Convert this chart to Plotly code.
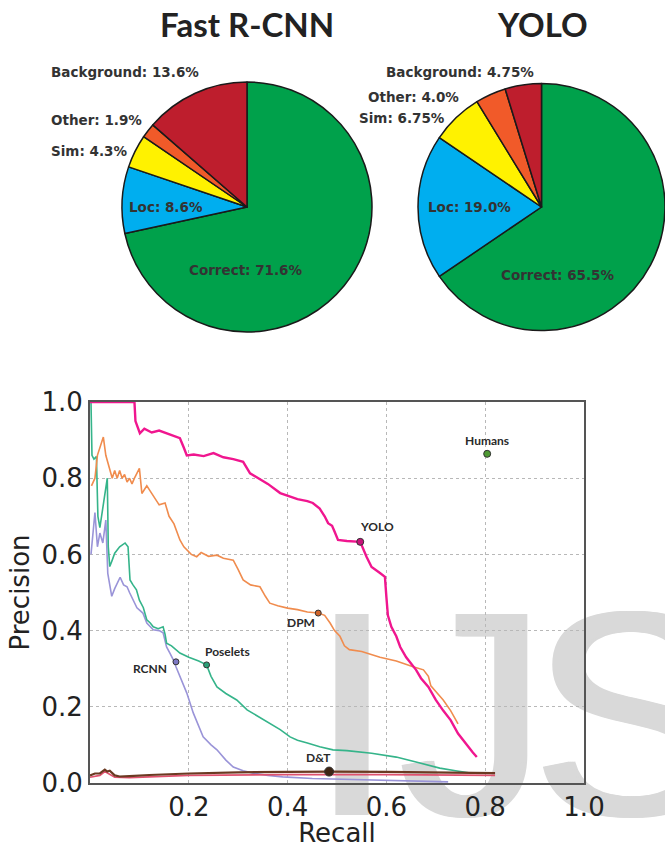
import plotly.graph_objects as go

# ---------------- data ----------------
pie_titles = ["Fast R-CNN", "YOLO"]
pie_categories = ["Correct", "Loc", "Sim", "Other", "Background"]
pie_colors = ["#00a14b", "#00aeef", "#fff200", "#f15a29", "#be1e2d"]
frcnn_values = [71.6, 8.6, 4.3, 1.9, 13.6]
yolo_values = [65.5, 19.0, 6.75, 4.0, 4.75]

yolo_recall = [0.0, 0.09, 0.092, 0.101, 0.11, 0.125, 0.14, 0.155, 0.165, 0.182, 0.19, 0.196, 0.21, 0.23,
               0.25, 0.27, 0.29, 0.31, 0.324, 0.34, 0.36, 0.385, 0.40, 0.42, 0.44, 0.451, 0.465, 0.475,
               0.482, 0.49, 0.495, 0.502, 0.52, 0.547, 0.56, 0.57, 0.587, 0.597, 0.60, 0.603, 0.61, 0.62,
               0.628, 0.64, 0.66, 0.67, 0.685, 0.70, 0.715, 0.73, 0.745, 0.755, 0.765, 0.775, 0.783]
yolo_precision = [1.0, 1.0, 0.95, 0.918, 0.93, 0.92, 0.925, 0.918, 0.915, 0.905, 0.88, 0.86, 0.862, 0.858,
                  0.866, 0.855, 0.85, 0.843, 0.813, 0.80, 0.785, 0.761, 0.755, 0.745, 0.74, 0.735, 0.72, 0.70,
                  0.682, 0.675, 0.66, 0.638, 0.635, 0.633, 0.593, 0.567, 0.551, 0.541, 0.488, 0.44, 0.41, 0.385,
                  0.357, 0.33, 0.297, 0.275, 0.252, 0.218, 0.19, 0.165, 0.13, 0.113, 0.095, 0.08, 0.068]

dpm_recall = [0.003, 0.01, 0.015, 0.02, 0.027, 0.032, 0.038, 0.045, 0.05, 0.055, 0.06, 0.065, 0.07, 0.075,
              0.08, 0.085, 0.09, 0.1, 0.105, 0.115, 0.12, 0.13, 0.14, 0.152, 0.16, 0.17, 0.182, 0.19, 0.196,
              0.205, 0.216, 0.225, 0.24, 0.257, 0.27, 0.29, 0.30, 0.31, 0.325, 0.344, 0.355, 0.364, 0.38,
              0.40, 0.42, 0.44, 0.462, 0.475, 0.486, 0.495, 0.506, 0.515, 0.525, 0.55, 0.587, 0.62, 0.654,
              0.675, 0.685, 0.69, 0.70, 0.715, 0.73, 0.745]
dpm_precision = [0.78, 0.80, 0.86, 0.88, 0.908, 0.86, 0.83, 0.80, 0.82, 0.80, 0.82, 0.80, 0.81, 0.79,
                 0.80, 0.785, 0.80, 0.826, 0.76, 0.78, 0.77, 0.75, 0.73, 0.735, 0.70, 0.68, 0.638, 0.62, 0.611,
                 0.60, 0.594, 0.605, 0.595, 0.598, 0.59, 0.585, 0.56, 0.533, 0.52, 0.515, 0.49, 0.472, 0.465,
                 0.459, 0.455, 0.449, 0.446, 0.44, 0.42, 0.40, 0.385, 0.36, 0.35, 0.345, 0.33, 0.32, 0.305,
                 0.297, 0.28, 0.255, 0.24, 0.218, 0.19, 0.155]

poselets_recall = [0.002, 0.004, 0.008, 0.013, 0.016, 0.02, 0.028, 0.035, 0.037, 0.04, 0.045, 0.05, 0.06,
                   0.071, 0.077, 0.08, 0.081, 0.087, 0.094, 0.1, 0.108, 0.115, 0.122, 0.128, 0.138, 0.148,
                   0.152, 0.155, 0.165, 0.182, 0.2, 0.22, 0.236, 0.245, 0.257, 0.275, 0.297, 0.318, 0.34,
                   0.364, 0.385, 0.405, 0.42, 0.44, 0.465, 0.492, 0.52, 0.57, 0.62, 0.66, 0.708, 0.74, 0.77]
poselets_precision = [1.0, 0.86, 0.85, 0.857, 0.70, 0.67, 0.74, 0.80, 0.62, 0.568, 0.585, 0.603, 0.62,
                      0.63, 0.62, 0.56, 0.533, 0.52, 0.507, 0.48, 0.46, 0.428, 0.42, 0.41, 0.405, 0.41,
                      0.39, 0.367, 0.36, 0.341, 0.33, 0.32, 0.31, 0.28, 0.252, 0.235, 0.218, 0.192, 0.175,
                      0.157, 0.14, 0.121, 0.112, 0.105, 0.095, 0.087, 0.085, 0.078, 0.068, 0.055, 0.039,
                      0.032, 0.026]

rcnn_recall = [0.002, 0.006, 0.01, 0.015, 0.02, 0.026, 0.032, 0.036, 0.04, 0.044, 0.05, 0.061, 0.068,
               0.075, 0.08, 0.087, 0.095, 0.107, 0.115, 0.128, 0.14, 0.148, 0.155, 0.162, 0.17, 0.174,
               0.185, 0.196, 0.209, 0.22, 0.229, 0.245, 0.257, 0.275, 0.29, 0.31, 0.33, 0.36, 0.39, 0.45,
               0.55, 0.65, 0.725]
rcnn_precision = [0.60, 0.65, 0.71, 0.62, 0.656, 0.63, 0.69, 0.55, 0.52, 0.49, 0.51, 0.54, 0.52,
                  0.515, 0.50, 0.48, 0.46, 0.446, 0.42, 0.402, 0.40, 0.394, 0.357, 0.34, 0.32, 0.305,
                  0.27, 0.236, 0.184, 0.15, 0.121, 0.10, 0.087, 0.06, 0.042, 0.032, 0.026, 0.02, 0.016,
                  0.012, 0.008, 0.005, 0.003]

dt_recall = [0.0, 0.01, 0.02, 0.03, 0.035, 0.04, 0.05, 0.06, 0.08, 0.12, 0.2, 0.3, 0.4, 0.484, 0.6, 0.7, 0.82]
dt_precision = [0.02, 0.025, 0.025, 0.035, 0.03, 0.032, 0.02, 0.017, 0.018, 0.021, 0.025, 0.028, 0.029,
                0.03, 0.029, 0.028, 0.026]
dt2_recall = [0.0, 0.02, 0.03, 0.05, 0.08, 0.2, 0.4, 0.6, 0.82]
dt2_precision = [0.015, 0.02, 0.03, 0.015, 0.014, 0.02, 0.022, 0.022, 0.02]

points = {
    "Humans": (0.804, 0.864),
    "YOLO": (0.547, 0.633),
    "DPM": (0.462, 0.446),
    "Poselets": (0.236, 0.31),
    "RCNN": (0.174, 0.318),
    "D&T": (0.484, 0.03),
}

x_ticks = [0.2, 0.4, 0.6, 0.8, 1.0]
y_ticks = [0.0, 0.2, 0.4, 0.6, 0.8, 1.0]

watermark_letters = ["I", "J", "S"]

# ---------------- figure ----------------
W, H = 665, 848


def px_x(p):
    return p / W


def px_y(p):
    return 1 - p / H


def pct(v):
    s = f"{v:.2f}"
    if s.endswith("0"):
        s = s[:-1]
    return s


fig = go.Figure()

# pies
pie_domains = [
    dict(x=[px_x(122), px_x(372)], y=[px_y(332), px_y(82)]),
    dict(x=[px_x(418), 1.0], y=[px_y(331), px_y(83)]),
]
for vals, dom in zip([frcnn_values, yolo_values], pie_domains):
    fig.add_trace(go.Pie(
        labels=pie_categories, values=vals, sort=False, direction="clockwise", rotation=0,
        marker=dict(colors=pie_colors, line=dict(color="#1a1a1a", width=1.5)),
        textinfo="none", hoverinfo="skip", showlegend=False, domain=dom,
    ))

# PR curves
curve_specs = [
    ("RCNN", rcnn_recall, rcnn_precision, "#9a94d8", 1.6),
    ("Poselets", poselets_recall, poselets_precision, "#35b48a", 1.6),
    ("D&T low", dt2_recall, dt2_precision, "#e0506e", 1.6),
    ("D&T", dt_recall, dt_precision, "#6b3a22", 2.2),
    ("DPM", dpm_recall, dpm_precision, "#f08c4e", 1.6),
    ("YOLO", yolo_recall, yolo_precision, "#f0168f", 2.4),
]
for name, xs, ys, col, w in curve_specs:
    fig.add_trace(go.Scatter(x=xs, y=ys, mode="lines", name=name,
                             line=dict(color=col, width=w), showlegend=False,
                             hoverinfo="skip"))

marker_colors = {
    "Humans": "#4f9a34", "YOLO": "#c8127a", "DPM": "#d0642a",
    "Poselets": "#2a9f76", "RCNN": "#7d78c4", "D&T": "#3d2414",
}
marker_sizes = {"Humans": 7, "YOLO": 7, "DPM": 6, "Poselets": 6, "RCNN": 6, "D&T": 9}
label_shift = {
    "Humans": (0, 13), "YOLO": (17, 15), "DPM": (-17, -9),
    "Poselets": (21, 13), "RCNN": (-26, -7), "D&T": (-11, 14),
}
for name, (rx, ry) in points.items():
    fig.add_trace(go.Scatter(x=[rx], y=[ry], mode="markers", showlegend=False, hoverinfo="skip",
                             marker=dict(color=marker_colors[name], size=marker_sizes[name],
                                         line=dict(color="#333333", width=1))))
    dx, dy = label_shift[name]
    fig.add_annotation(x=rx, y=ry, xref="x", yref="y", text=name, showarrow=False,
                       xshift=dx, yshift=dy,
                       font=dict(family="Lato", size=12, color="#2a2a2a", weight="bold"))

# pie titles
title_centers = [(247, 24), (542, 24)]
for t, (cx, cy) in zip(pie_titles, title_centers):
    fig.add_annotation(x=px_x(cx), y=px_y(cy), xref="paper", yref="paper", text=t,
                       showarrow=False, xanchor="center", yanchor="middle",
                       font=dict(family="Lato", size=33, color="#222222", weight="bold"))

# pie labels (anchor, x, y) per category
label_pos = [
    {  # Fast R-CNN
        "Correct": ("center", 246, 270), "Loc": ("left", 127, 207), "Sim": ("left", 49, 151),
        "Other": ("left", 49, 120), "Background": ("left", 49, 72),
    },
    {  # YOLO
        "Correct": ("center", 558, 275), "Loc": ("left", 426, 207), "Sim": ("left", 357, 118),
        "Other": ("left", 366, 97), "Background": ("left", 384, 72),
    },
]
for vals, pos in zip([frcnn_values, yolo_values], label_pos):
    for cat, v in zip(pie_categories, vals):
        anc, lx, ly = pos[cat]
        fig.add_annotation(x=px_x(lx), y=px_y(ly), xref="paper", yref="paper",
                           text=f"{cat}: {pct(v)}%", showarrow=False,
                           xanchor=anc, yanchor="middle",
                           font=dict(family="DejaVu Sans", size=13.5, color="#333333", weight="bold"))

# watermark letters (behind everything)
wm_centers = [349, 470, 627]
wm_cy = 686
wm_gray = "#d9d9d9"
for letter, cx in zip(watermark_letters, wm_centers):
    fig.add_shape(type="rect", xref="paper", yref="paper",
                  x0=px_x(cx - 110), x1=px_x(cx + 110), y0=px_y(wm_cy + 60), y1=px_y(wm_cy - 60),
                  line=dict(width=0), fillcolor="rgba(0,0,0,0)", layer="below",
                  label=dict(text=letter, textposition="middle center", padding=0,
                             font=dict(family="Liberation Sans", size=292, color=wm_gray,
                                       shadow=f"2px 0 0 {wm_gray}, 4px 0 0 {wm_gray}, 6px 0 0 {wm_gray}")))

axis_common = dict(
    showline=True, mirror=True, linecolor="#555555", linewidth=2,
    showgrid=True, gridcolor="#b8b8b8", griddash="dot", gridwidth=1,
    zeroline=False, ticks="", automargin=False,
    tickfont=dict(family="DejaVu Sans", size=26, color="#222222"),
)
fig.update_layout(
    width=W, height=H, margin=dict(l=0, r=0, t=0, b=0, autoexpand=False),
    paper_bgcolor="white", plot_bgcolor="white",
    xaxis=dict(domain=[px_x(90), px_x(584)], range=[0, 1], tickvals=x_ticks,
               ticktext=[f"{v:.1f}" for v in x_ticks],
               title=dict(text="Recall", font=dict(family="DejaVu Sans", size=26, color="#222222"),
                          standoff=2),
               **axis_common),
    yaxis=dict(domain=[px_y(783), px_y(402)], range=[0, 1], tickvals=y_ticks,
               ticktext=[f"{v:.1f}" for v in y_ticks],
               title=dict(text="Precision", font=dict(family="DejaVu Sans", size=26, color="#222222"),
                          standoff=4),
               **axis_common),
)

fig.write_html("out.html", config={"displayModeBar": False},
               post_script="document.body.style.margin='0px';")
